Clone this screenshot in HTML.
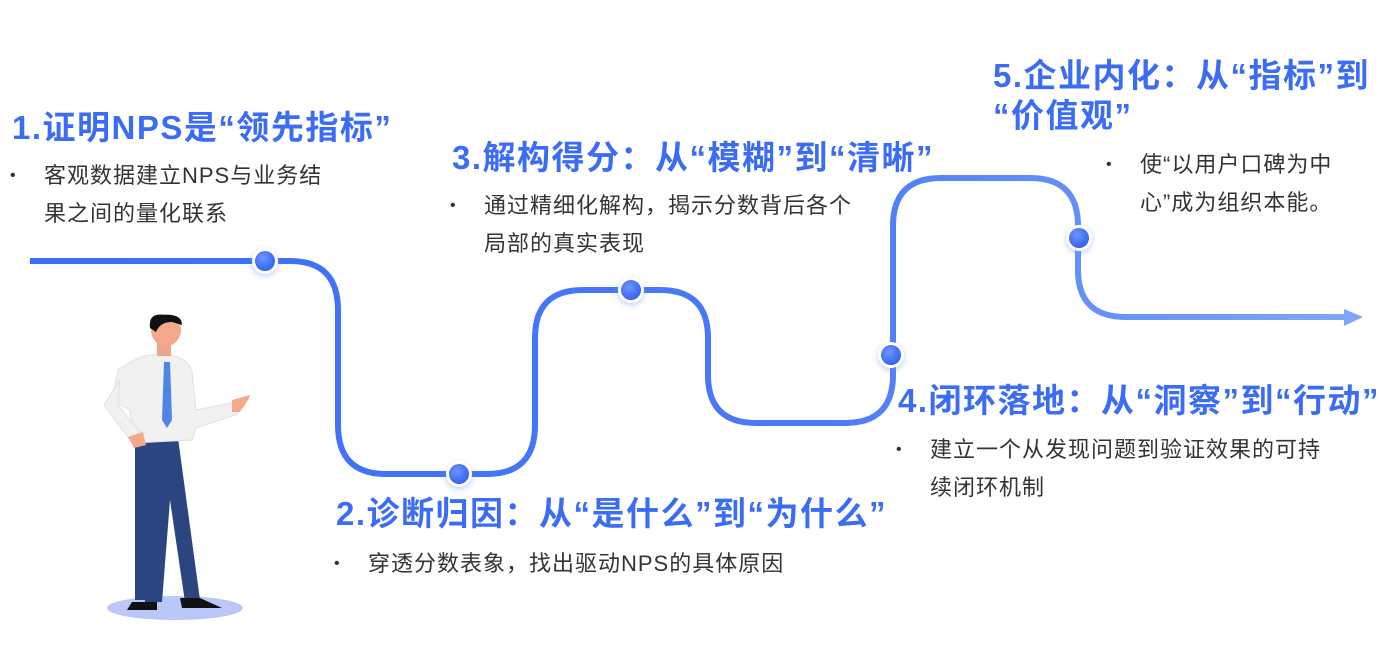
<!DOCTYPE html>
<html><head><meta charset="utf-8"><style>
body{margin:0;width:1383px;height:657px;background:#fff;overflow:hidden;position:relative;font-family:"Liberation Sans","Noto Sans CJK SC",sans-serif}
.t{position:absolute;color:#3b6cf5;font-weight:bold;font-size:33px;letter-spacing:1.5px;white-space:nowrap;line-height:40px}
.b{position:absolute;color:#333;font-size:22px;letter-spacing:1px;line-height:38px}
.b:before{content:"•";position:absolute;left:-34px;font-size:16px}
</style></head><body>
<svg width="1383" height="657" style="position:absolute;left:0;top:0">
<defs>
<linearGradient id="g" x1="0" x2="1" y1="0" y2="0"><stop offset="0" stop-color="#3a6ef8"/><stop offset="0.6" stop-color="#4a7af8"/><stop offset="1" stop-color="#7ea6f8"/></linearGradient>
<radialGradient id="d" cx="0.4" cy="0.35" r="0.7"><stop offset="0" stop-color="#6f95ff"/><stop offset="1" stop-color="#2f5fef"/></radialGradient>
<filter id="s" x="-1" y="-1" width="3" height="3"><feDropShadow dx="0" dy="2" stdDeviation="3" flood-color="#6a8cff" flood-opacity="0.45"/></filter>
</defs>
<path d="M30 261 H290 Q338 261 338 310 V425 Q338 474 386 474 H487 Q535 474 535 425 V338 Q535 290 583 290 H660 Q708 290 708 338 V375 Q708 423 756 423 H845 Q893 423 893 375 V226 Q893 178 941 178 H1030 Q1078 178 1078 226 V270 Q1078 317 1126 317 H1345" fill="none" stroke="url(#g)" stroke-width="6"/>
<polygon points="1344,309 1363,317 1344,326" fill="#7ea6f8"/>
<g filter="url(#s)">
<circle cx="265" cy="261" r="13" fill="#fff"/><circle cx="459" cy="474" r="13" fill="#fff"/><circle cx="631" cy="290" r="13" fill="#fff"/><circle cx="891" cy="355" r="13" fill="#fff"/><circle cx="1079" cy="238" r="13" fill="#fff"/>
</g>
<circle cx="265" cy="261" r="10" fill="url(#d)"/><circle cx="459" cy="474" r="10" fill="url(#d)"/><circle cx="631" cy="290" r="10" fill="url(#d)"/><circle cx="891" cy="355" r="10" fill="url(#d)"/><circle cx="1079" cy="238" r="10" fill="url(#d)"/>
<!-- person -->
<ellipse cx="175" cy="608" rx="68" ry="12" fill="#b9c8f9"/>
<path d="M135 442 L178 438 L200 600 L185 602 L170 500 L162 602 L145 602 Z" fill="#2b4580"/>
<path d="M135 440 L148 440 L150 600 L135 600 Z" fill="#2b4580"/>
<path d="M132 602 h25 v8 h-30 z M180 598 h20 l22 10 h-40 z" fill="#111"/>
<path d="M118 370 Q140 355 152 355 L170 355 Q188 358 192 372 L196 410 L236 402 L238 414 L196 428 L192 440 L134 443 L130 410 L112 400 Z" fill="#f1f1f1" stroke="#e0e0e0"/>
<path d="M120 380 L104 405 L130 440 L140 432 L118 405 Z" fill="#f1f1f1" stroke="#e0e0e0"/>
<path d="M164 362 L170 362 L172 420 L167 428 L162 420 Z" fill="#4f86e6"/>
<rect x="157" y="338" width="14" height="18" fill="#f0a58a"/>
<ellipse cx="166" cy="330" rx="15" ry="16" fill="#f4a98d"/>
<path d="M150 328 Q148 312 165 315 Q182 314 182 325 L172 322 Q160 322 156 332 Z" fill="#111"/>
<path d="M232 400 L250 395 L248 400 L240 412 L232 412 Z" fill="#f4a98d"/>
<path d="M128 437 L143 432 L146 445 L134 448 Z" fill="#f4a98d"/>
</svg>
<div class="t" style="left:12px;top:108px">1.证明NPS是“领先指标”</div>
<div class="b" style="left:44px;top:157px;width:295px">客观数据建立NPS与业务结果之间的量化联系</div>
<div class="t" style="left:452px;top:138px">3.解构得分：从“模糊”到“清晰”</div>
<div class="b" style="left:484px;top:187px;width:385px">通过精细化解构，揭示分数背后各个局部的真实表现</div>
<div class="t" style="left:993px;top:56px;line-height:40px">5.企业内化：从“指标”到<br>“价值观”</div>
<div class="b" style="left:1140px;top:146px;width:210px">使“以用户口碑为中心”成为组织本能。</div>
<div class="t" style="left:898px;top:381px">4.闭环落地：从“洞察”到“行动”</div>
<div class="b" style="left:930px;top:431px;width:410px">建立一个从发现问题到验证效果的可持续闭环机制</div>
<div class="t" style="left:336px;top:494px">2.诊断归因：从“是什么”到“为什么”</div>
<div class="b" style="left:368px;top:545px;width:520px">穿透分数表象，找出驱动NPS的具体原因</div>
</body></html>
